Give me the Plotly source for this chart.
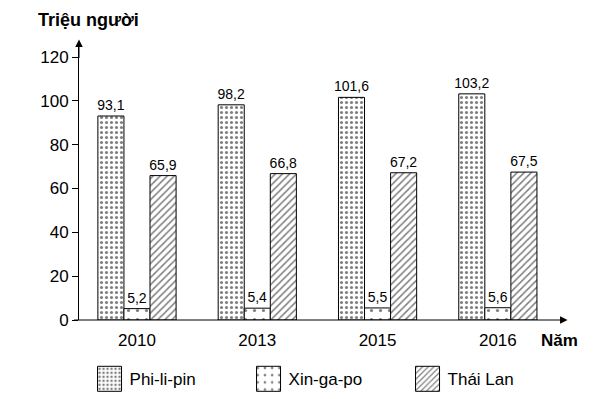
import plotly.graph_objects as go

years = ["2010", "2013", "2015", "2016"]
series_names = ["Phi-li-pin", "Xin-ga-po", "Thái Lan"]
phi = [93.1, 98.2, 101.6, 103.2]
xin = [5.2, 5.4, 5.5, 5.6]
thai = [65.9, 66.8, 67.2, 67.5]
y_ticks = [0, 20, 40, 60, 80, 100, 120]

FONT = "Liberation Sans, Arial, sans-serif"

patterns = [
    dict(shape=".", size=5, solidity=0.3, fgcolor="black", bgcolor="white", fillmode="overlay"),
    dict(shape=".", size=9, solidity=0.1, fgcolor="black", bgcolor="white", fillmode="overlay"),
    dict(shape="/", size=5, solidity=0.3, fgcolor="black", bgcolor="white", fillmode="overlay"),
]

def fmt(v):
    return f"{v:.1f}".replace(".", ",")

fig = go.Figure()
for name, vals, pat in zip(series_names, [phi, xin, thai], patterns):
    fig.add_trace(go.Bar(
        x=years, y=vals, name=name,
        marker=dict(color="white", line=dict(color="black", width=1), pattern=pat),
        text=[fmt(v) for v in vals], textposition="outside",
        textfont=dict(size=14, color="black", family=FONT),
        constraintext="none",
        cliponaxis=False,
    ))

fig.update_layout(
    width=607, height=391,
    margin=dict(l=71, r=57, t=37, b=79, autoexpand=False),
    paper_bgcolor="white", plot_bgcolor="white",
    barmode="group", bargap=0.35, bargroupgap=0,
    font=dict(family=FONT, color="black", size=17),
    showlegend=True,
    legend=dict(orientation="h", x=0.022, y=-0.15, xanchor="left", yanchor="top",
                font=dict(size=17), entrywidthmode="pixels", entrywidth=114,
                traceorder="normal"),
    xaxis=dict(type="category", range=[-0.482, 3.5], showline=False, showgrid=False,
               zeroline=False, ticks="", tickfont=dict(size=17), ticklabelstandoff=8),
    yaxis=dict(range=[0, 125.5], tickvals=y_ticks, showgrid=False, zeroline=False,
               showline=True, linecolor="black", linewidth=1,
               ticks="outside", ticklen=6, tickcolor="black", tickfont=dict(size=17)),
)

# x axis line with arrow
fig.add_annotation(xref="paper", yref="paper", x=1.02, y=0, ax=-495, ay=0,
                   axref="pixel", ayref="pixel", text="", showarrow=True,
                   arrowhead=2, arrowsize=1.5, arrowwidth=1, arrowcolor="black")
# y axis arrow
fig.add_annotation(xref="paper", yref="paper", x=0, y=1.02, ax=0, ay=20,
                   text="", showarrow=True, arrowhead=2, arrowsize=1.5,
                   arrowwidth=1, arrowcolor="black")

fig.add_annotation(xref="paper", yref="paper", x=-0.09, y=1.0, yshift=25,
                   xanchor="left", yanchor="middle", text="<b>Triệu người</b>",
                   showarrow=False, font=dict(size=18))
fig.add_annotation(xref="paper", yref="paper", x=0.96, y=0, yshift=-20,
                   xanchor="left", yanchor="middle", text="<b>Năm</b>",
                   showarrow=False, font=dict(size=17))

# enlarge the legend swatches to match the reference's large boxes
post = """
var gd = document.getElementById('{plot_id}');
gd.querySelectorAll('.legendpoints path').forEach(function(p){
  p.setAttribute('d', 'M12,12.5H-12V-12.5H12Z');
  p.style.stroke = 'rgb(0,0,0)';
  p.style.strokeWidth = '1px';
});
"""

fig.write_html("out.html", post_script=post)
